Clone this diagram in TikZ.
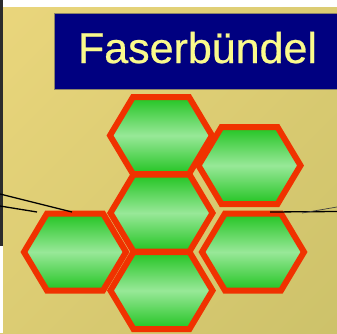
\documentclass[tikz,border=0pt]{standalone}
\usepackage{fontspec}
\setmainfont{Liberation Sans}
\usetikzlibrary{calc}

\definecolor{bgtl}{HTML}{EAD67C}
\definecolor{bgbr}{HTML}{CDC26A}
\definecolor{framedark}{HTML}{2C2C2C}
\definecolor{navybox}{HTML}{000080}
\definecolor{boxedge}{HTML}{8C8468}
\definecolor{titleyellow}{HTML}{FAFA8C}
\definecolor{hexedge}{HTML}{F03200}
\definecolor{hexdark}{HTML}{22C422}
\definecolor{hexlight}{HTML}{98E898}

\tikzset{
  cell/.style={draw=hexedge, line width=6pt, line join=miter,
    top color=hexdark, bottom color=hexdark, middle color=hexlight},
  fibre/.style={draw=black, line width=1.3pt},
}

% flat-topped hexagonal fibre cell around a named centre
\newcommand\fibrecell[1]{%
  \path[cell] (#1) ++(-51,0) -- ++(23,-38.5) -- ++(56,0) -- ++(23,38.5)
    -- ++(-23,38.5) -- ++(-56,0) -- cycle;}

\begin{document}
\begin{tikzpicture}[x=1pt, y=-1pt]
  \useasboundingbox (0,0) rectangle (337,333);

  % backdrop: diagonal warm gradient built from narrow bands
  \begin{scope}
    \clip (0,7) rectangle (337,333);
    \foreach \i in {0,...,66} {
      \pgfmathsetmacro\sa{10*\i}
      \pgfmathsetmacro\sb{10*\i+10.6}
      \pgfmathsetmacro\mix{100*\i/66}
      \fill[bgbr!\mix!bgtl] (\sa,0) -- (\sb,0) -- (\sb-700,700) -- (\sa-700,700) -- cycle;
    }
  \end{scope}
  \fill[white] (0,0) rectangle (337,7);
  \fill[white] (0,246) rectangle (2.5,333);
  \draw[framedark, line width=2.5pt] (1.25,0) -- (1.25,246);

  % title
  \begin{scope}
    \clip (0,0) rectangle (337,333);
    \node (titlebox) [fill=navybox, draw=boxedge, line width=0.8pt,
      minimum width=287pt, minimum height=76pt, inner sep=0pt,
      anchor=north west] at (54,13) {};
  \end{scope}
  \node (titletext) [anchor=base, text=titleyellow,
    font=\fontsize{43}{43}\selectfont\addfontfeature{FakeBold=0.6},
    inner sep=0pt] at (197.5,63) {Faserbündel};

  % cell centres
  \coordinate (cA) at (161,135.5);
  \coordinate (cB) at (249.5,165.5);
  \coordinate (cC) at (161.5,213);
  \coordinate (cD) at (253,252);
  \coordinate (cE) at (75,252);
  \coordinate (cF) at (161.5,290.5);

  \fibrecell{cA}
  \fibrecell{cC}
  \fibrecell{cE}
  \fibrecell{cF}
  \fibrecell{cD}
  \fibrecell{cB}

  % fibre strands entering and leaving
  \coordinate (l1a) at (0,194);   \coordinate (l1b) at (72,212);
  \coordinate (l2a) at (0,206);   \coordinate (l2b) at (37,212);
  \coordinate (r1a) at (270,212); \coordinate (r1b) at (337,211.5);
  \coordinate (r2a) at (302,213); \coordinate (r2b) at (337,207);
  \draw[fibre] (l1a) -- (l1b);
  \draw[fibre] (l2a) -- (l2b);
  \draw[fibre] (r1a) -- (r1b);
  \draw[fibre, line width=0.7pt, draw=black!75] (r2a) -- (r2b);
\end{tikzpicture}
\end{document}
